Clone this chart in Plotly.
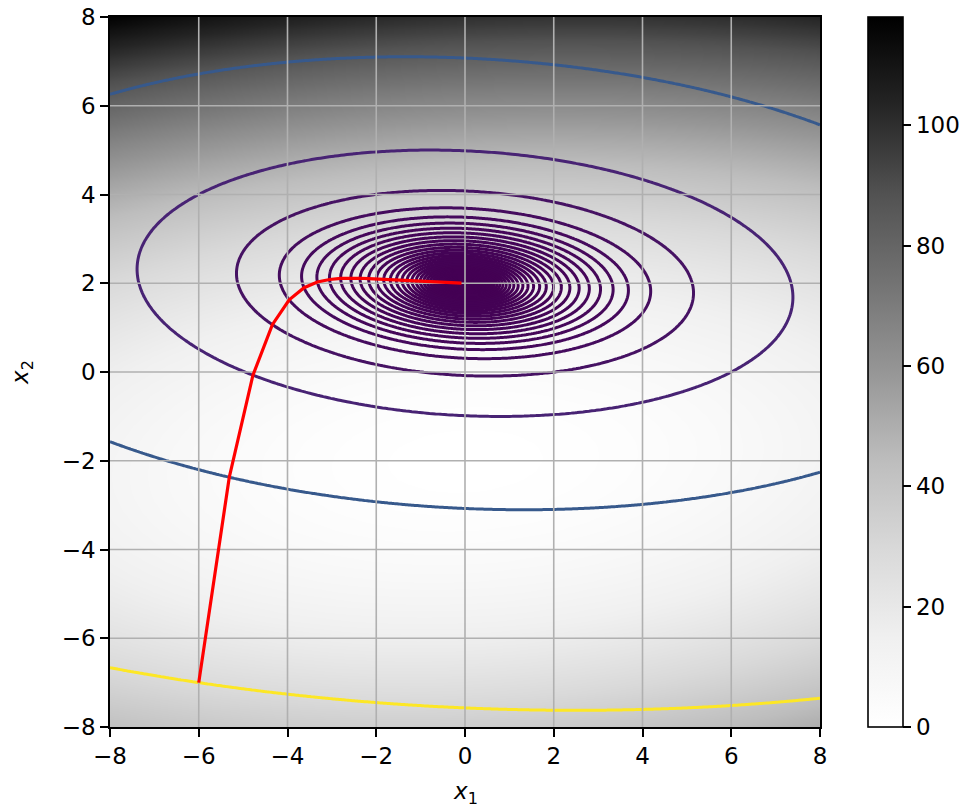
import numpy as np
import plotly.graph_objects as go
from plotly.colors import sample_colorscale

coef_a = 0.165      # weight of (x1 - c1)^2
coef_b = 0.043      # half cross weight (x1 - c1)(x2 - c2)
coef_d = 1.0        # weight of (x2 - c2)^2
center_x1 = 0.0
center_x2 = 2.0

# ---- gradient-descent iterates (read from the red path) ----
path_x = [-6.000, -5.312, -4.779, -4.341, -3.962, -3.627, -3.326, -3.052, -2.802, -2.573,
          -2.363, -2.171, -1.994, -1.832, -1.683, -1.546, -1.420, -1.305, -1.198, -1.101,
          -1.011, -0.929, -0.853, -0.784, -0.720, -0.661, -0.608, -0.558, -0.513, -0.471,
          -0.433, -0.397, -0.365, -0.335, -0.308, -0.283, -0.260, -0.239, -0.219, -0.202,
          -0.185, -0.170, -0.156, -0.144, -0.132, -0.121, -0.111, -0.102, -0.094, -0.086,
          -0.079]
path_y = [-7.000, -2.371, -0.071, 1.067, 1.627, 1.899, 2.027, 2.085, 2.108, 2.114,
          2.113, 2.103, 2.095, 2.087, 2.080, 2.074, 2.068, 2.062, 2.057, 2.052,
          2.048, 2.044, 2.041, 2.037, 2.034, 2.032, 2.029, 2.027, 2.024, 2.022,
          2.021, 2.019, 2.017, 2.016, 2.015, 2.014, 2.012, 2.011, 2.010, 2.010,
          2.009, 2.008, 2.007, 2.007, 2.006, 2.006, 2.005, 2.005, 2.005, 2.004,
          2.004]

# ---- contour levels: objective value at each iterate ----
levels = [91.58, 25.76, 8.910, 4.327, 2.857, 2.213, 1.818, 1.522, 1.281, 1.080,
          0.9115, 0.7691, 0.6490, 0.5476, 0.4621, 0.3899, 0.3290, 0.2776, 0.2343, 0.1977,
          0.1668, 0.1407, 0.1188, 0.1002, 0.0846, 0.0714, 0.0602, 0.0508, 0.0429, 0.0362,
          0.0305, 0.0258, 0.0217, 0.0183, 0.0155, 0.0131, 0.0110, 0.0093, 0.0078, 0.0066,
          0.0056, 0.0047, 0.0040, 0.0034, 0.0028, 0.0024, 0.0020, 0.0017, 0.0014, 0.0012,
          0.0010]

axis_ticks = [-8, -6, -4, -2, 0, 2, 4, 6, 8]
cbar_ticks = [0, 20, 40, 60, 80, 100]
cbar_max = 118.0

greys = ['#ffffff', '#f0f0f0', '#d9d9d9', '#bdbdbd', '#969696',
         '#737373', '#525252', '#252525', '#000000']


def objective(x1, x2):
    u = x1 - center_x1
    v = x2 - center_x2
    return coef_a * u * u + 2 * coef_b * u * v + coef_d * v * v


fig = go.Figure()

# background image (drawn upside down, as in the reference)
gx = np.linspace(-8, 8, 321)
GX, GY = np.meshgrid(gx, gx)
img = objective(GX, -GY).astype(np.float32)

fig.add_trace(go.Heatmap(
    x=gx, y=gx, z=img, zmin=0, zmax=cbar_max, zsmooth='best',
    colorscale=[[i / (len(greys) - 1), c] for i, c in enumerate(greys)],
    hoverinfo='skip',
    colorbar=dict(
        x=1.0676, xanchor='left', xpad=0, y=0.5, yanchor='middle',
        len=1, lenmode='fraction', ypad=0, thickness=35, thicknessmode='pixels',
        outlinewidth=1.6, outlinecolor='black',
        ticks='outside', ticklen=8, tickwidth=1.6, tickcolor='black',
        tickvals=cbar_ticks, tickfont=dict(size=23, color='black'),
    ),
))

# grid lines above the image
gxs, gys = [], []
for v in axis_ticks[1:-1]:
    gxs += [v, v, None]
    gys += [-8, 8, None]
for v in axis_ticks[1:-1]:
    gxs += [-8, 8, None]
    gys += [v, v, None]
fig.add_trace(go.Scatter(x=gxs, y=gys, mode='lines',
                         line=dict(color='#b0b0b0', width=1.6),
                         hoverinfo='skip', showlegend=False))

# one contour trace per level, each on a grid fitted to its ellipse
lo, hi = min(levels), max(levels)
cols = sample_colorscale('Viridis', [(v - lo) / (hi - lo) for v in levels])
det = coef_a * coef_d - coef_b ** 2
for L, col in zip(levels, cols):
    half_x = min(1.08 * np.sqrt(L * coef_d / det), 8.0)
    y_rad = 1.08 * np.sqrt(L * coef_a / det)
    y_lo = max(center_x2 - y_rad, -8.0)
    y_hi = min(center_x2 + y_rad, 8.0)
    n = 241 if L > 20 else 121
    xs = np.linspace(center_x1 - half_x, center_x1 + half_x, n)
    ys = np.linspace(y_lo, y_hi, n)
    XX, YY = np.meshgrid(xs, ys)
    zz = objective(XX, YY).astype(np.float32)
    fig.add_trace(go.Contour(
        x=xs, y=ys, z=zz,
        autocontour=False,
        contours=dict(start=L, end=L, size=1, coloring='lines'),
        colorscale=[[0, col], [1, col]], showscale=False,
        line=dict(width=3, smoothing=0.5),
        hoverinfo='skip',
    ))

fig.add_trace(go.Scatter(x=path_x, y=path_y, mode='lines',
                         line=dict(color='red', width=3.2),
                         hoverinfo='skip', showlegend=False))

axis_common = dict(
    range=[-8, 8], tickvals=axis_ticks, ticks='outside', ticklen=8, tickwidth=1.6,
    tickcolor='black', showline=True, linecolor='black', linewidth=1.6, mirror=True,
    showgrid=False, zeroline=False, automargin=False, ticklabeloverflow='allow',
    tickfont=dict(size=23, color='black'),
)

fig.update_layout(
    width=974, height=810,
    margin=dict(l=110, r=154, t=17, b=83, autoexpand=False),
    paper_bgcolor='white', plot_bgcolor='white',
    font=dict(family='DejaVu Sans', size=23, color='black'),
    showlegend=False,
    xaxis=dict(**axis_common),
    yaxis=dict(**axis_common),
    annotations=[
        dict(text='<i>x</i><sub>1</sub>', xref='paper', yref='paper', x=0.5, y=-0.093,
             xanchor='center', yanchor='middle', showarrow=False, font=dict(size=23)),
        dict(text='<i>x</i><sub>2</sub>', xref='paper', yref='paper', x=-0.124, y=0.5,
             xanchor='center', yanchor='middle', showarrow=False, textangle=-90,
             font=dict(size=23)),
    ],
)

# remove the default page margin so the figure sits at the window's corner
fig.write_html('out.html', config={'displayModeBar': False},
               post_script="document.body.style.margin='0';")
